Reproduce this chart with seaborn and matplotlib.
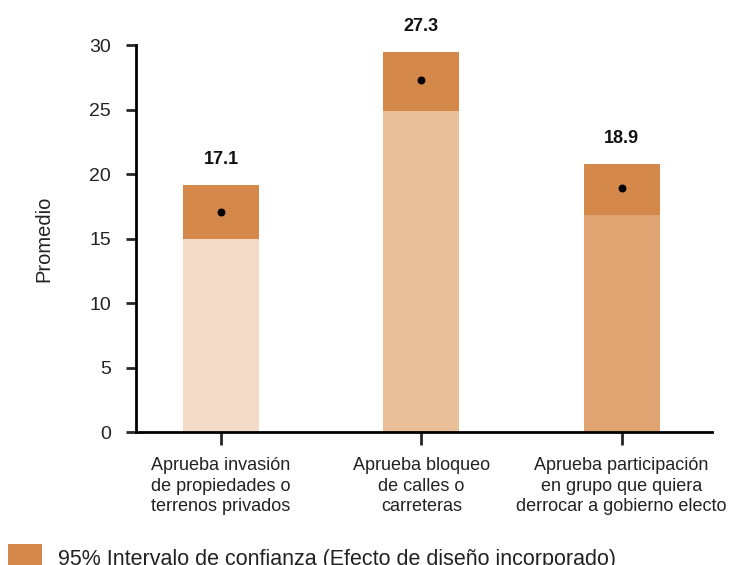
import numpy as np
import pandas as pd
import matplotlib
matplotlib.use("Agg")
import matplotlib.pyplot as plt
import seaborn as sns
from matplotlib.patches import Patch

# Data
categories = [
    "Aprueba invasión\nde propiedades o\nterrenos privados",
    "Aprueba bloqueo\nde calles o\ncarreteras",
    "Aprueba participación\nen grupo que quiera\nderrocar a gobierno electo",
]
means = [17.1, 27.3, 18.9]
ci_low = [15.0, 24.9, 16.8]
ci_high = [19.2, 29.5, 20.8]
yticks = [0, 5, 10, 15, 20, 25, 30]

bar_colors = ["#F3DBC8", "#EAC09A", "#E0A472"]
ci_color = "#D4894A"

sns.set_style("white")
plt.rcParams['font.family'] = ['Liberation Sans', 'DejaVu Sans']

df = pd.DataFrame({"cat": categories, "mean": means, "low": ci_low, "high": ci_high})

fig = plt.figure(figsize=(7.36, 5.65), dpi=100)
ax = fig.add_axes([0.185, 0.235, 0.782, 0.685])

# base bars up to lower CI bound
sns.barplot(data=df, x="cat", y="low", hue="cat", palette=bar_colors,
            width=0.38, legend=False, ax=ax, saturation=1, linewidth=0)
# CI segment on top
pos = np.arange(len(categories))
ax.bar(pos, df["high"] - df["low"], bottom=df["low"], width=0.38,
       color=ci_color, linewidth=0)
# mean dots
ax.scatter(pos, df["mean"], color="black", s=22, zorder=5)

for x, m, h in zip(pos, means, ci_high):
    ax.annotate(f"{m:.1f}", (x, h), xytext=(0, 12), textcoords="offset points",
                ha="center", va="bottom", fontsize=13, fontweight="bold",
                color="#111111")

ax.set_ylim(0, 30)
ax.set_xlim(-0.424, 2.45)
ax.set_yticks(yticks)
ax.set_xlabel("")
ax.set_ylabel("Promedio", fontsize=14.5, labelpad=26, color="#222222")
ax.tick_params(axis="y", labelsize=14, length=7, width=2, direction="out", left=True, pad=11)
ax.tick_params(axis="x", labelsize=13, length=9, width=2, direction="out", bottom=True, pad=9)
for t in ax.get_xticklabels():
    t.set_ha("center")
    t.set_multialignment("center")
    t.set_linespacing(1.27)
    t.set_color("#222222")
for t in ax.get_yticklabels():
    t.set_color("#222222")
sns.despine(ax=ax)
for s in ["left", "bottom"]:
    ax.spines[s].set_linewidth(2)
    ax.spines[s].set_color("black")

handles = [Patch(facecolor=ci_color, edgecolor="none",
                 label="95% Intervalo de confianza (Efecto de diseño incorporado)")]
fig.legend(handles=handles, loc="lower left", bbox_to_anchor=(8 / 736, -0.012),
           frameon=False, fontsize=15.5, handlelength=1.6, handleheight=1.6,
           handletextpad=0.7, borderpad=0, borderaxespad=0,
           labelcolor="#222222")

fig.savefig("out.png", dpi=100)
